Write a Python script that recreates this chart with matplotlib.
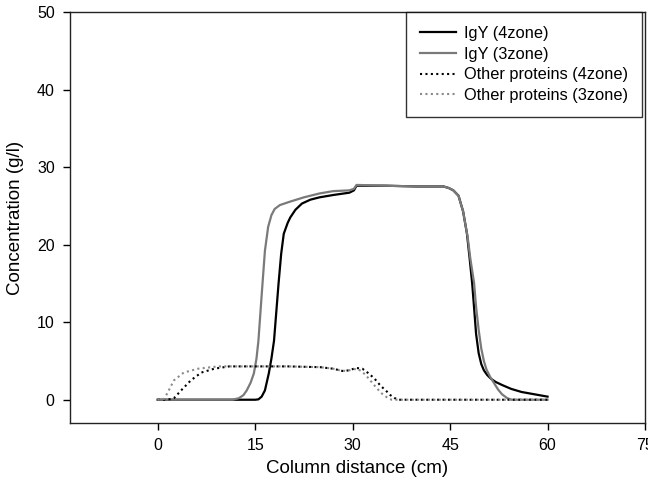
import matplotlib
matplotlib.use("Agg")
import matplotlib.pyplot as plt

plt.rcParams['font.family'] = ['Liberation Sans', 'DejaVu Sans']

# -------------------------
# data
# -------------------------
igy4_x = [0, 15.0, 15.5, 16.0, 16.5, 17.1, 17.5, 17.9, 18.6, 19.0, 19.4, 20.0, 20.4, 21.2, 22.2, 23.5,
          24.9, 27.0, 29.5, 30.2, 30.6, 35, 40, 44.0, 44.8, 45.5, 46.3, 47.0, 47.6, 48.0, 48.4, 48.7,
          49.0, 49.4, 49.8, 50.2, 50.7, 51.3, 52.0, 53.0, 54.4, 56, 58, 60]
igy4_y = [0, 0, 0.05, 0.4, 1.2, 3.4, 5.3, 7.6, 15.0, 18.8, 21.4, 22.8, 23.5, 24.5, 25.3, 25.8,
          26.1, 26.4, 26.7, 27.0, 27.6, 27.6, 27.5, 27.5, 27.3, 27.0, 26.3, 24.3, 21.4, 18.3, 15.0, 11.8,
          8.5, 6.0, 4.6, 3.8, 3.2, 2.7, 2.3, 1.9, 1.4, 1.0, 0.7, 0.4]

igy3_x = [0, 11.5, 12.5, 13.2, 13.7, 14.3, 14.8, 15.2, 15.5, 16.0, 16.5, 17.0, 17.5, 18.0, 18.8,
          20.2, 22.5, 24.9, 27.0, 29.5, 30.2, 30.6, 35, 40, 44.0, 44.8, 45.5, 46.3, 47.0, 47.7,
          48.1, 48.7, 49.0, 49.4, 49.8, 50.2, 50.6, 51.2, 51.8, 52.4, 53.0, 53.8, 54.5, 60]
igy3_y = [0, 0, 0.2, 0.6, 1.2, 2.2, 3.4, 5.3, 7.6, 13.5, 19.2, 22.3, 23.8, 24.6, 25.1,
          25.5, 26.1, 26.6, 26.9, 27.0, 27.2, 27.7, 27.6, 27.5, 27.5, 27.3, 27.0, 26.3, 24.3, 21.0,
          18.3, 15.0, 12.0, 9.0, 6.6, 5.0, 3.9, 2.9, 2.1, 1.3, 0.7, 0.2, 0.0, 0.0]

other4_x = [0, 1.5, 2.5, 3.6, 5.1, 6.7, 8.7, 11, 15, 20, 25, 27, 28.5, 29.5, 30.5, 31.5, 32.3,
            33.0, 33.6, 34.3, 35.1, 35.8, 36.5, 37, 60]
other4_y = [0, 0, 0.2, 1.2, 2.5, 3.5, 4.0, 4.3, 4.3, 4.3, 4.2, 4.0, 3.7, 3.8, 4.1, 4.0, 3.5,
            3.0, 2.5, 1.8, 1.2, 0.6, 0.2, 0, 0]

other3_x = [0, 0.5, 1.0, 1.7, 2.5, 4.0, 6.2, 9.3, 15, 20, 25, 27, 28, 29, 30, 30.7, 31.5, 32.3,
            33.0, 33.7, 34.5, 35.3, 36, 60]
other3_y = [0, 0, 0.1, 1.2, 2.5, 3.5, 4.0, 4.3, 4.3, 4.3, 4.2, 4.0, 3.8, 3.7, 3.9, 4.0, 3.6, 2.9,
            2.2, 1.5, 0.8, 0.3, 0, 0]

x_ticks = [0, 15, 30, 45, 60, 75]
y_ticks = [0, 10, 20, 30, 40, 50]

# -------------------------
# plot
# -------------------------
fig = plt.figure(figsize=(6.48, 4.92), dpi=100)
ax = fig.add_axes([70 / 648, 1 - 423 / 492, 575 / 648, 411 / 492])

ax.plot(igy4_x, igy4_y, color="black", lw=1.6, label="IgY (4zone)")
ax.plot(igy3_x, igy3_y, color="#7a7a7a", lw=1.6, label="IgY (3zone)")
ax.plot(other4_x, other4_y, color="black", lw=1.5, linestyle=(0, (1, 1.6)),
        label="Other proteins (4zone)")
ax.plot(other3_x, other3_y, color="#8a8a8a", lw=1.5, linestyle=(0, (1, 1.6)),
        label="Other proteins (3zone)")

ax.set_xlim(-13.5, 75)
ax.set_ylim(-3, 50)
ax.set_xticks(x_ticks)
ax.set_yticks(y_ticks)
ax.tick_params(direction="out", length=5, width=1, labelsize=11.5, pad=6,
               top=False, right=False)
for s in ax.spines.values():
    s.set_linewidth(1)
    s.set_color("#222222")

ax.set_xlabel("Column distance (cm)", fontsize=13.5, labelpad=5)
ax.set_ylabel("Concentration (g/l)", fontsize=13.5, labelpad=9)

leg = ax.legend(loc="upper right", bbox_to_anchor=(642 / 648, 1 - 12 / 492),
                bbox_transform=fig.transFigure, fontsize=11.8, frameon=True,
                fancybox=False, borderaxespad=0, borderpad=0.85, labelspacing=0.35,
                handlelength=2.2, handletextpad=0.5)
leg.get_frame().set_edgecolor("black")
leg.get_frame().set_linewidth(1)

fig.savefig("out.png", dpi=100)
